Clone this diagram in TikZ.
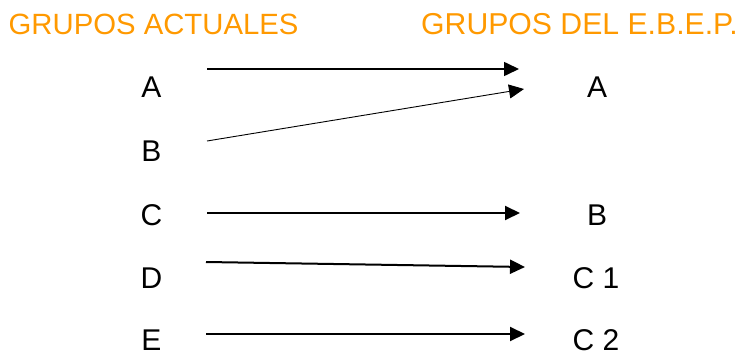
\documentclass[tikz,border=0pt]{standalone}
\usepackage{fontspec}
\setmainfont{Liberation Sans}
\usetikzlibrary{arrows.meta}
\definecolor{hdr}{RGB}{255,153,0}
\tikzset{
  hdrtext/.style={anchor=base west, inner sep=0pt, text=hdr, font=\fontsize{29.3}{35}\selectfont},
  letter/.style={anchor=base, inner sep=0pt, font=\fontsize{30}{36}\selectfont},
  arr/.style={-{Triangle[length=15pt,width=14pt]}, line width=1.6pt},
  arrthin/.style={-{Triangle[length=15pt,width=14pt]}, line width=0.9pt}
}
\begin{document}
\begin{tikzpicture}[x=1pt,y=-1pt]
\useasboundingbox (0,0) rectangle (742,353);
\node[hdrtext] (h1) at (8.5,35) {GRUPOS ACTUALES};
\node[hdrtext, font=\fontsize{30.2}{36}\selectfont] (h2) at (421,35) {GRUPOS DEL E.B.E.P.};
% left column
\node[letter] (lA) at (151.5,98) {A};
\node[letter] (lB) at (151.5,161) {B};
\node[letter] (lC) at (151.5,225) {C};
\node[letter] (lD) at (151.5,288) {D};
\node[letter] (lE) at (151.5,350.5) {E};
% right column
\node[letter] (rA) at (597,98) {A};
\node[letter] (rB) at (597,225) {B};
\node[letter] (rC1) at (596,288) {C 1};
\node[letter] (rC2) at (596,350.5) {C 2};
% connector end points
\coordinate (sA) at (207,69);   \coordinate (eA) at (519,69);
\coordinate (sB) at (207,141);  \coordinate (eB) at (524,89);
\coordinate (sC) at (207,213);  \coordinate (eC) at (520,213);
\coordinate (sD) at (206,262);  \coordinate (eD) at (525,267);
\coordinate (sE) at (206,334);  \coordinate (eE) at (525,334);
\draw[arr] (sA) -- (eA);
\draw[arrthin] (sB) -- (eB);
\draw[arr, line width=2pt] (sC) -- (eC);
\draw[arr, line width=2pt] (sD) -- (eD);
\draw[arr, line width=2pt] (sE) -- (eE);
\end{tikzpicture}
\end{document}
